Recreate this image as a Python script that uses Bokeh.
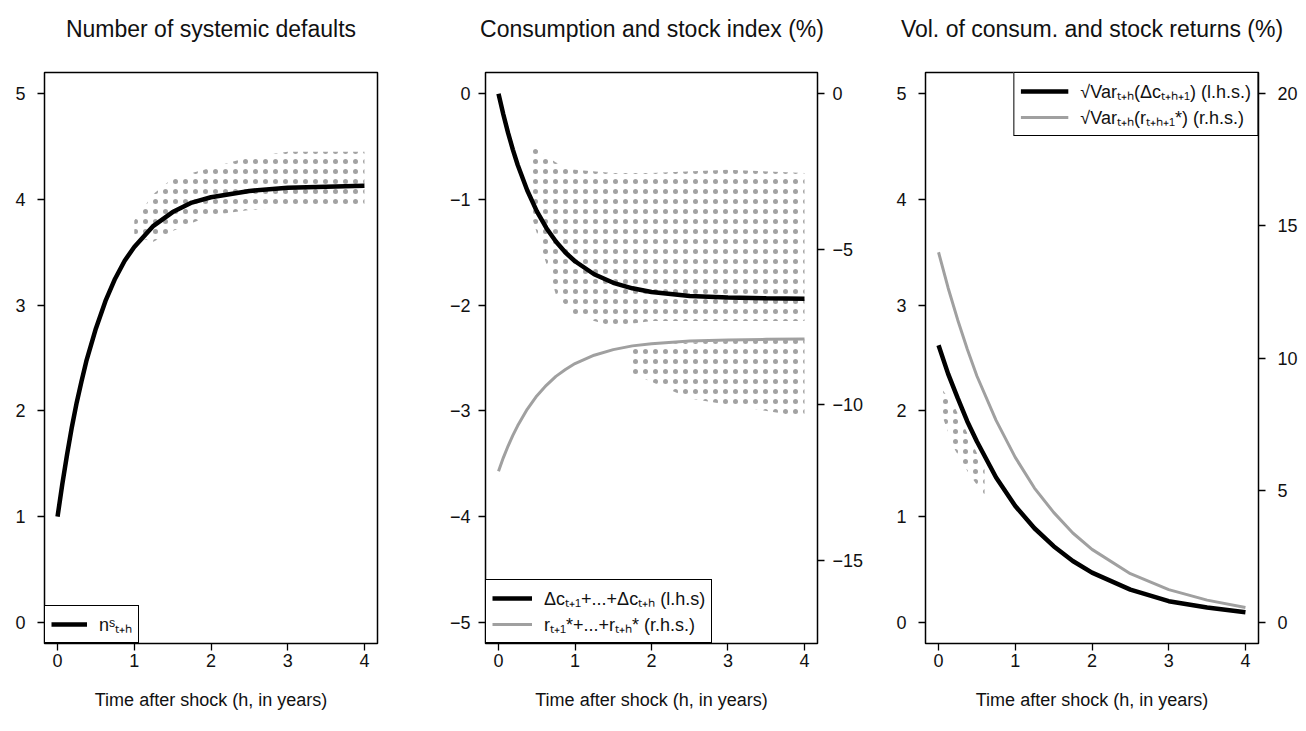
from bokeh.plotting import figure
from bokeh.layouts import row, column
from bokeh.models import Range1d, LinearAxis, FixedTicker, Label
from bokeh.embed import file_html
from bokeh.resources import INLINE

FONT = "Liberation Sans"

# ---------------- data ----------------
x_ticks = [0, 1, 2, 3, 4]

# Panel 1: number of systemic defaults
h1 = [0, 0.0625, 0.125, 0.1875, 0.25, 0.3125, 0.375, 0.5, 0.625, 0.75, 0.875, 1,
      1.25, 1.5, 1.75, 2, 2.5, 3, 3.5, 4]
n_sys = [1.0, 1.31, 1.59, 1.85, 2.08, 2.28, 2.47, 2.78, 3.04, 3.25, 3.42, 3.55,
         3.75, 3.88, 3.97, 4.02, 4.08, 4.11, 4.12, 4.13]
band1_h = [1.0, 1.25, 1.5, 2, 2.5, 3, 3.5, 4]
band1_hi = [3.8, 4.05, 4.2, 4.3, 4.4, 4.45, 4.45, 4.45]
band1_lo = [3.65, 3.6, 3.7, 3.85, 3.9, 3.92, 3.92, 3.95]

# Panel 2: consumption (l.h.s.) and stock index (r.h.s., %)
h2 = [0, 0.0625, 0.125, 0.1875, 0.25, 0.375, 0.5, 0.625, 0.75, 0.875, 1,
      1.25, 1.5, 1.75, 2, 2.5, 3, 3.5, 4]
cons_cum = [0, -0.195, -0.371, -0.529, -0.672, -0.914, -1.111, -1.27, -1.398, -1.502, -1.585,
            -1.708, -1.789, -1.841, -1.876, -1.913, -1.928, -1.935, -1.94]
stock_cum = [-12.14, -11.71, -11.33, -10.99, -10.68, -10.15, -9.72, -9.38, -9.09, -8.87, -8.68,
             -8.41, -8.23, -8.11, -8.04, -7.95, -7.92, -7.9, -7.89]
band2a_h = [0.45, 0.75, 1.0, 1.5, 2, 3, 4]
band2a_hi = [-0.5, -0.65, -0.72, -0.75, -0.75, -0.72, -0.75]
band2a_lo = [-1.2, -1.9, -2.1, -2.2, -2.15, -2.15, -2.15]
band2b_h = [1.75, 2.5, 3, 4]
band2b_hi = [-8.1, -8.0, -7.95, -7.9]
band2b_lo = [-9.0, -9.8, -10.0, -10.4]

# Panel 3: volatility of consumption (l.h.s.) and stock returns (r.h.s., %)
h3 = [0, 0.125, 0.25, 0.375, 0.5, 0.75, 1, 1.25, 1.5, 1.75, 2, 2.5, 3, 3.5, 4]
vol_cons = [2.62, 2.35, 2.12, 1.9, 1.71, 1.37, 1.10, 0.89, 0.72, 0.58, 0.47, 0.31, 0.20, 0.14, 0.095]
vol_stock = [14.0, 12.65, 11.44, 10.33, 9.32, 7.64, 6.24, 5.08, 4.16, 3.38, 2.76, 1.84, 1.24, 0.84, 0.56]
band3_h = [0.05, 0.2, 0.4, 0.6]
band3_hi = [2.2, 2.05, 1.75, 1.45]
band3_lo = [1.95, 1.65, 1.4, 1.2]

titles = ["Number of systemic defaults",
          "Consumption and stock index (%)",
          "Vol. of consum. and stock returns (%)"]
x_label = "Time after shock (h, in years)"

TICK_FS = "18px"
X_RANGE = (-0.17, 4.17)
FRAME_W = 333
TITLE_H = 56


def style_axis(ax, ticks, standoff):
    ax.ticker = FixedTicker(ticks=ticks)
    ax.major_label_overrides = {t: (("\u2212" + str(abs(t))) if t < 0 else str(t)) for t in ticks}
    ax.axis_line_color = None
    ax.major_tick_out = 7
    ax.major_tick_in = 0
    ax.major_tick_line_width = 1.3
    ax.minor_tick_line_color = None
    ax.major_label_text_font = FONT
    ax.major_label_text_font_size = TICK_FS
    ax.major_label_text_color = "#111111"
    ax.major_label_standoff = standoff


def title_fig(title, bl, width):
    t = figure(width=width, height=TITLE_H, x_range=Range1d(0, width), y_range=Range1d(0, TITLE_H),
               x_axis_type=None, y_axis_type=None, output_backend="svg", toolbar_location=None,
               min_border=0)
    t.outline_line_color = None
    t.xgrid.visible = False
    t.ygrid.visible = False
    t.add_layout(Label(x=bl + FRAME_W / 2, y=TITLE_H - 28, text=title,
                       text_align="center", text_baseline="middle", text_font=FONT,
                       text_font_size="23px", text_color="#111111"))
    return t


def make_fig(yrange, bl, br, width):
    p = figure(width=width, height=731 - TITLE_H, x_range=Range1d(*X_RANGE), y_range=Range1d(*yrange),
               output_backend="svg", toolbar_location=None,
               min_border_left=bl, min_border_right=br, min_border_top=72 - TITLE_H,
               min_border_bottom=88)
    p.xgrid.visible = False
    p.ygrid.visible = False
    p.outline_line_color = "black"
    p.outline_line_width = 1.5
    p.background_fill_color = "white"
    p.border_fill_color = "white"
    style_axis(p.xaxis[0], x_ticks, 3)
    p.xaxis[0].axis_label = x_label
    p.xaxis[0].axis_label_text_font = FONT
    p.xaxis[0].axis_label_text_font_size = "18px"
    p.xaxis[0].axis_label_text_font_style = "normal"
    p.xaxis[0].axis_label_text_color = "#111111"
    p.xaxis[0].axis_label_standoff = 20
    return p


def dot_band(p, x, lo, hi, y_range_name="default"):
    p.varea(x=x, y1=lo, y2=hi, fill_color=None, hatch_pattern="dot", hatch_color="#555555",
            hatch_scale=10, hatch_weight=0.3, hatch_alpha=0.55, y_range_name=y_range_name)


def style_legend(p, location, glyph_w):
    leg = p.legend[0]
    leg.location = location
    leg.margin = 0
    leg.padding = 6
    leg.spacing = 2
    leg.border_line_color = "black"
    leg.border_line_width = 1.5
    leg.border_line_alpha = 1
    leg.background_fill_alpha = 1
    leg.label_text_font = FONT
    leg.label_text_font_size = "18px"
    leg.label_text_color = "#111111"
    leg.glyph_width = glyph_w
    leg.glyph_height = 18
    leg.label_standoff = 12


GREY = "#a0a0a0"

# ---- panel 1 ----
t1 = title_fig(titles[0], 44, 440)
p1 = make_fig((-0.2, 5.2), 44, 63, 440)
style_axis(p1.yaxis[0], [0, 1, 2, 3, 4, 5], 12)
dot_band(p1, band1_h, band1_lo, band1_hi)
p1.line(h1, n_sys, line_color="black", line_width=4.5, legend_label="n\u02E2\u209C\u208A\u2095")
style_legend(p1, "bottom_left", 36)

# ---- panel 2 ----
t2 = title_fig(titles[1], 45, 430)
p2 = make_fig((-5.2, 0.2), 45, 53, 430)
style_axis(p2.yaxis[0], [0, -1, -2, -3, -4, -5], 8)
p2.extra_y_ranges = {"r": Range1d(-5.2 * 3.4, 0.2 * 3.4)}
ax2 = LinearAxis(y_range_name="r")
style_axis(ax2, [0, -5, -10, -15], 8)
p2.add_layout(ax2, "right")
dot_band(p2, band2a_h, band2a_lo, band2a_hi)
dot_band(p2, band2b_h, band2b_lo, band2b_hi, "r")
p2.line(h2, cons_cum, line_color="black", line_width=4.5,
        legend_label="\u0394c\u209C\u208A\u2081+...+\u0394c\u209C\u208A\u2095 (l.h.s)")
p2.line(h2, stock_cum, line_color=GREY, line_width=3, y_range_name="r",
        legend_label="r\u209C\u208A\u2081*+...+r\u209C\u208A\u2095* (r.h.s.)")
style_legend(p2, "bottom_left", 40)

# ---- panel 3 ----
t3 = title_fig(titles[2], 55, 436)
p3 = make_fig((-0.2, 5.2), 55, 48, 436)
style_axis(p3.yaxis[0], [0, 1, 2, 3, 4, 5], 12)
p3.extra_y_ranges = {"r": Range1d(-0.8, 20.8)}
ax3 = LinearAxis(y_range_name="r")
style_axis(ax3, [0, 5, 10, 15, 20], 12)
p3.add_layout(ax3, "right")
dot_band(p3, band3_h, band3_lo, band3_hi)
p3.line(h3, vol_cons, line_color="black", line_width=4.5,
        legend_label="\u221AVar\u209C\u208A\u2095(\u0394c\u209C\u208A\u2095\u208A\u2081) (l.h.s.)")
p3.line(h3, vol_stock, line_color=GREY, line_width=3, y_range_name="r",
        legend_label="\u221AVar\u209C\u208A\u2095(r\u209C\u208A\u2095\u208A\u2081*) (r.h.s.)")
style_legend(p3, "top_right", 48)

layout = column(row(t1, t2, t3), row(p1, p2, p3))
open("out.html", "w").write(file_html(layout, INLINE))
